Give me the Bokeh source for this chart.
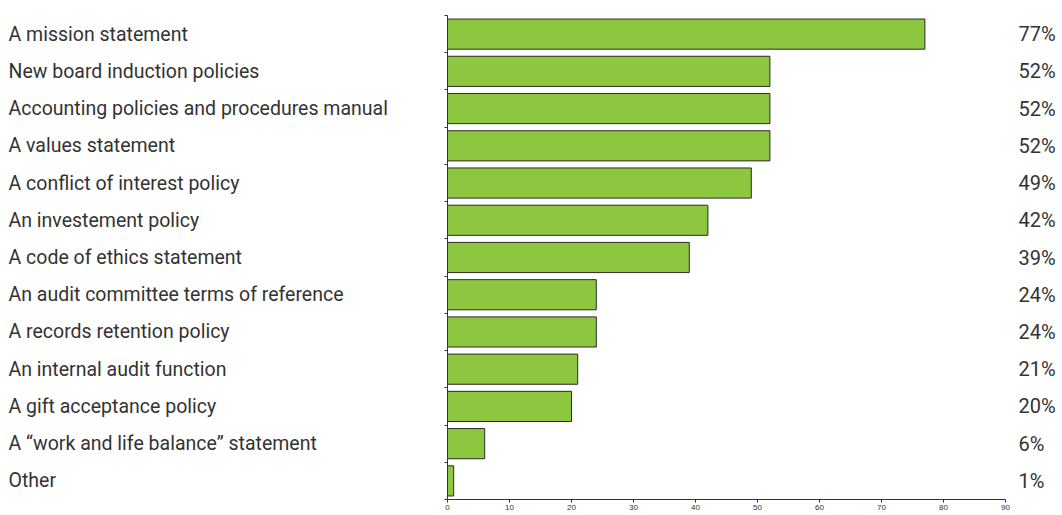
from bokeh.plotting import figure
from bokeh.layouts import row
from bokeh.models import Range1d, FixedTicker, LinearAxis, ColumnDataSource
from bokeh.core.properties import value
from bokeh.embed import file_html
from bokeh.resources import INLINE

categories = [
    "A mission statement",
    "New board induction policies",
    "Accounting policies and procedures manual",
    "A values statement",
    "A conflict of interest policy",
    "An investement policy",
    "A code of ethics statement",
    "An audit committee terms of reference",
    "A records retention policy",
    "An internal audit function",
    "A gift acceptance policy",
    "A \u201cwork and life balance\u201d statement",
    "Other",
]
values = [77, 52, 52, 52, 49, 42, 39, 24, 24, 21, 20, 6, 1]
x_ticks = [0, 10, 20, 30, 40, 50, 60, 70, 80, 90]

n = len(categories)
pos = [i + 0.5 for i in range(n)]
pct = [f"{v}%" for v in values]

FONT = "Roboto"
TXT = "#333333"
LABEL_W = 440
TOP, BOTTOM = 15, 16

yr = Range1d(n, 0)
src = ColumnDataSource(dict(y=pos, v=values, cat=categories, pct=pct))

# left panel: category labels
lp = figure(width=LABEL_W, height=515, output_backend="svg", toolbar_location=None,
            x_range=Range1d(0, LABEL_W), y_range=yr,
            min_border_left=0, min_border_right=0, min_border_top=TOP, min_border_bottom=BOTTOM)
lp.axis.visible = False
lp.grid.visible = False
lp.outline_line_color = None
lp.text(x=8, y="y", text="cat", source=src, text_font=value(FONT),
        text_font_size=value("19.5px"), text_color=TXT,
        text_baseline="middle", text_align="left")

# right panel: bars
p = figure(width=1062 - LABEL_W, height=515, output_backend="svg", toolbar_location=None,
           x_range=Range1d(0, 90), y_range=yr,
           min_border_left=7, min_border_right=57, min_border_top=TOP, min_border_bottom=BOTTOM)
p.outline_line_color = None
p.grid.visible = False

p.hbar(y="y", left=0, right="v", height=0.81, source=src,
       fill_color="#8DC63F", line_color="#2b2b2b", line_width=1)

xa = p.xaxis[0]
xa.ticker = FixedTicker(ticks=x_ticks)
xa.minor_tick_line_color = None
xa.axis_line_color = "#333333"
xa.major_tick_line_color = "#333333"
xa.major_tick_in = 0
xa.major_tick_out = 3
xa.major_label_standoff = 2
xa.major_label_text_font = "Liberation Sans"
xa.major_label_text_font_size = "8px"
xa.major_label_text_color = TXT

ya = p.yaxis[0]
ya.ticker = FixedTicker(ticks=list(range(n + 1)))
ya.minor_tick_line_color = None
ya.axis_line_color = "#333333"
ya.major_tick_line_color = "#333333"
ya.major_tick_in = 0
ya.major_tick_out = 3
ya.major_label_standoff = 0
ya.major_label_overrides = {i: "" for i in range(n + 1)}

ra = LinearAxis(ticker=FixedTicker(ticks=pos),
                major_label_overrides={pv: t for pv, t in zip(pos, pct)})
ra.axis_line_color = None
ra.major_tick_line_color = None
ra.minor_tick_line_color = None
ra.major_tick_in = 0
ra.major_tick_out = 0
ra.major_label_standoff = 13
ra.major_label_text_font = FONT
ra.major_label_text_font_size = "20px"
ra.major_label_text_color = TXT
p.add_layout(ra, "right")

layout = row(lp, p)
open("out.html", "w").write(file_html(layout, INLINE))
